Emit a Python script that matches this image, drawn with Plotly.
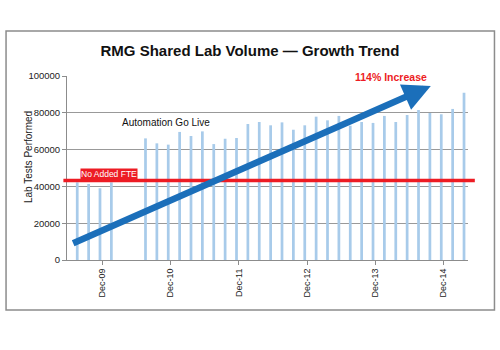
import plotly.graph_objects as go

# ---- data ----
tick_labels = ["Dec-09", "Dec-10", "Dec-11", "Dec-12", "Dec-13", "Dec-14"]
# bi-monthly lab test volumes (Aug-09 .. Apr-15); None = no data
volumes = [42200, 41300, 39000, 42200, None, None,
           66100, 63400, 62700, 69600, 67400, 69900,
           63000, 65900, 66300, 73900, 75000, 73200,
           74800, 70800, 73200, 77900, 75900, 78300,
           73000, 75000, 74500, 78300, 75000, 78800,
           81500, 79900, 79200, 82100, 90900]
baseline = 43200          # "No Added FTE" level
trend_start = 8700        # trend arrow start value
trend_end = 94600         # trend arrow end value

slots = list(range(len(volumes)))
tickvals = [2.2 + 6 * i for i in range(len(tick_labels))]

FONT = "Liberation Sans, Arial, sans-serif"
GRAY = "#8c8c8c"

fig = go.Figure()
fig.add_trace(go.Bar(x=slots, y=volumes, width=0.24,
                     marker=dict(color="#a8cbea", line=dict(width=0)),
                     hoverinfo="skip"))

fig.update_layout(
    width=500, height=350,
    margin=dict(l=67, r=32, t=76, b=90),
    paper_bgcolor="white", plot_bgcolor="white",
    showlegend=False,
    font=dict(family=FONT, color="#222"),
    title=dict(text="<b>RMG Shared Lab Volume — Growth Trend</b>",
               x=0.5, xanchor="center", y=1 - 50.7 / 350, yanchor="middle",
               font=dict(size=15, color="#111", family=FONT)),
    xaxis=dict(range=[-0.9, 34.35], tickmode="array", tickvals=tickvals,
               ticktext=tick_labels, tickangle=-90, ticks="outside",
               ticklen=4, tickcolor=GRAY, showline=True, linecolor=GRAY,
               linewidth=1, showgrid=False, zeroline=False,
               tickfont=dict(size=9, color="#222")),
    yaxis=dict(range=[0, 100000], dtick=20000, ticks="outside", ticklen=4,
               tickcolor=GRAY, showline=True, linecolor=GRAY, linewidth=1,
               showgrid=True, gridcolor="#999999", gridwidth=1,
               zeroline=False, tickformat="d",
               tickfont=dict(size=9.5, color="#222")),
)

# outer frame
fig.add_shape(type="rect", xref="paper", yref="paper",
              x0=-0.152, x1=1.066, y0=-0.272, y1=1.245,
              line=dict(color=GRAY, width=1.5), layer="below")

# baseline red line
fig.add_shape(type="line", xref="paper", yref="y",
              x0=-0.009, x1=1.017, y0=baseline, y1=baseline,
              line=dict(color="#ed1c24", width=3.5), layer="above")

# trend arrow
fig.add_annotation(x=31.08, y=trend_end, ax=-0.49, ay=trend_start,
                   xref="x", yref="y", axref="x", ayref="y",
                   text="", showarrow=True, arrowhead=2, arrowsize=0.85,
                   arrowwidth=6.5, arrowcolor="#1b6fba", standoff=0)

# labels
fig.add_annotation(x=2.76, y=baseline, xref="x", yref="y",
                   text="No Added FTE", showarrow=False, yanchor="bottom",
                   yshift=1, bgcolor="#ed1c24", borderpad=0,
                   font=dict(size=8.5, color="white", family=FONT))
fig.add_annotation(x=7.8, y=75000, xref="x", yref="y",
                   text="Automation Go Live", showarrow=False,
                   font=dict(size=10, color="#111", family=FONT))
fig.add_annotation(x=(429 - 67) / 401, y=(260 - 69.3) / 184,
                   xref="paper", yref="paper",
                   text="<b>114% Increase</b>", showarrow=False,
                   font=dict(size=10.5, color="#ed1c24", family=FONT))
fig.add_annotation(x=(20.8 - 67) / 401, y=(260 - 156.7) / 184,
                   xref="paper", yref="paper", textangle=-90,
                   text="Lab Tests Performed", showarrow=False,
                   font=dict(size=10, color="#222", family=FONT))

fig.write_html("out.html")
